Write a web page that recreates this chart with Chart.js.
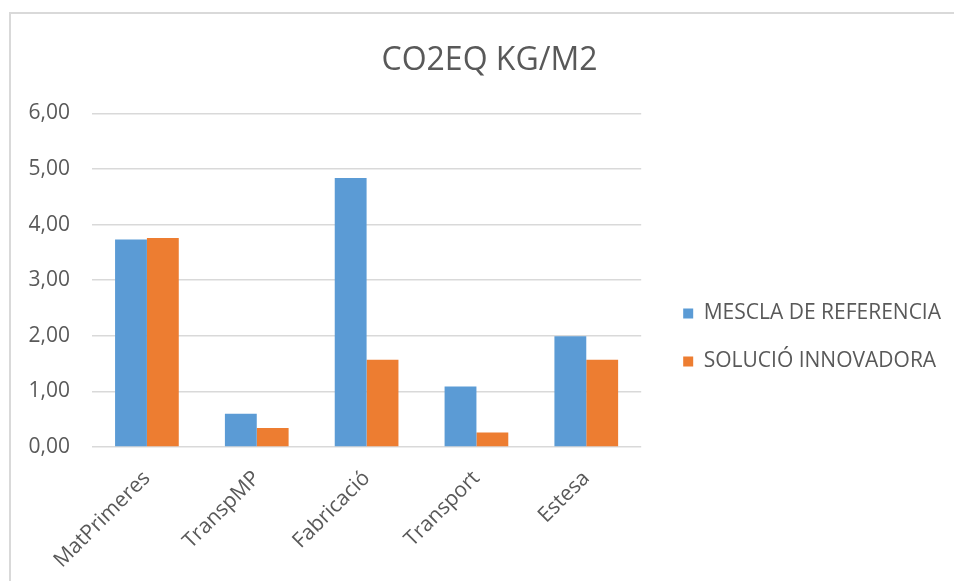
<!DOCTYPE html>
<html>
<head>
<meta charset="utf-8">
<script src="https://cdn.jsdelivr.net/npm/chart.js@4"></script>
<style>
  html, body { margin: 0; padding: 0; background: #fff; overflow: hidden; }
  #wrap { position: relative; width: 954px; height: 581px; }
  #frame { position: absolute; left: 9px; top: 12px; width: 980px; height: 600px;
           border-left: 2px solid #d9d9d9; border-top: 2px solid #d9d9d9; }
  #c { position: absolute; left: 0; top: 0; }
</style>
</head>
<body>
<div id="wrap">
  <div id="frame"></div>
  <canvas id="c" width="954" height="581"></canvas>
</div>
<script>
// CO2 equivalent per square metre, by life-cycle stage
const chartTitle = 'CO2EQ KG/M2';
const categories = ['MatPrimeres', 'TranspMP', 'Fabricació', 'Transport', 'Estesa'];
const seriesNames = ['MESCLA DE REFERENCIA', 'SOLUCIÓ INNOVADORA'];
const referenceMix = [3.73, 0.60, 4.84, 1.09, 1.99];
const innovativeSolution = [3.76, 0.34, 1.57, 0.26, 1.57];
const yTicks = [0, 1, 2, 3, 4, 5, 6];

const FONT = 'Open Sans';
const TEXT = '#595959';
const GRID = '#d9d9d9';

// Lowers the legend block so it sits beside the lower half of the plot
const legendNudge = {
  id: 'legendNudge',
  afterLayout(chart, args, opts) {
    const lg = chart.legend;
    if (!lg) return;
    lg.left += opts.dx; lg.right += opts.dx;
    lg.top += opts.dy; lg.bottom += opts.dy;
  }
};

new Chart(document.getElementById('c'), {
  type: 'bar',
  data: {
    labels: categories,
    datasets: [
      { label: seriesNames[0], data: referenceMix, backgroundColor: '#5b9bd5' },
      { label: seriesNames[1], data: innovativeSolution, backgroundColor: '#ed7d31' }
    ]
  },
  plugins: [legendNudge],
  options: {
    responsive: false,
    animation: false,
    devicePixelRatio: 1,
    layout: { padding: { left: 28, right: 3, top: 0, bottom: 0 } },
    datasets: { bar: { categoryPercentage: 0.58, barPercentage: 1.0, borderWidth: 0 } },
    scales: {
      x: {
        afterFit(scale) { scale.height = 134; },
        grid: { display: false, drawTicks: false },
        border: { display: false },
        ticks: {
          color: TEXT, font: { family: FONT, size: 21 },
          minRotation: 45, maxRotation: 45, padding: 19, autoSkip: false
        }
      },
      y: {
        min: 0, max: 6,
        afterBuildTicks(scale) { scale.ticks = yTicks.map(v => ({ value: v })); },
        afterFit(scale) { scale.width = 64; },
        grid: { color: GRID, lineWidth: 1.5, drawTicks: false },
        border: { display: false },
        ticks: {
          color: TEXT, font: { family: FONT, size: 21 }, padding: 22,
          callback: v => Number(v).toFixed(2).replace('.', ',')
        }
      },
      // empty right-hand axis: keeps a gap between the plot and the legend
      legendGap: {
        type: 'linear', position: 'right', display: true,
        afterFit(scale) { scale.width = 15; },
        grid: { display: false, drawTicks: false },
        border: { display: false },
        ticks: { display: false }
      }
    },
    plugins: {
      title: {
        display: true, text: chartTitle, color: TEXT,
        font: { family: FONT, size: 32, weight: 'normal' },
        padding: { top: 42, bottom: 33 }
      },
      legend: {
        position: 'right',
        maxWidth: 400,
        labels: {
          color: TEXT, font: { family: FONT, size: 21 },
          boxWidth: 10, boxHeight: 10, padding: 27
        }
      },
      legendNudge: { dx: 0, dy: 47 },
      tooltip: { enabled: false }
    }
  }
});
</script>
</body>
</html>
